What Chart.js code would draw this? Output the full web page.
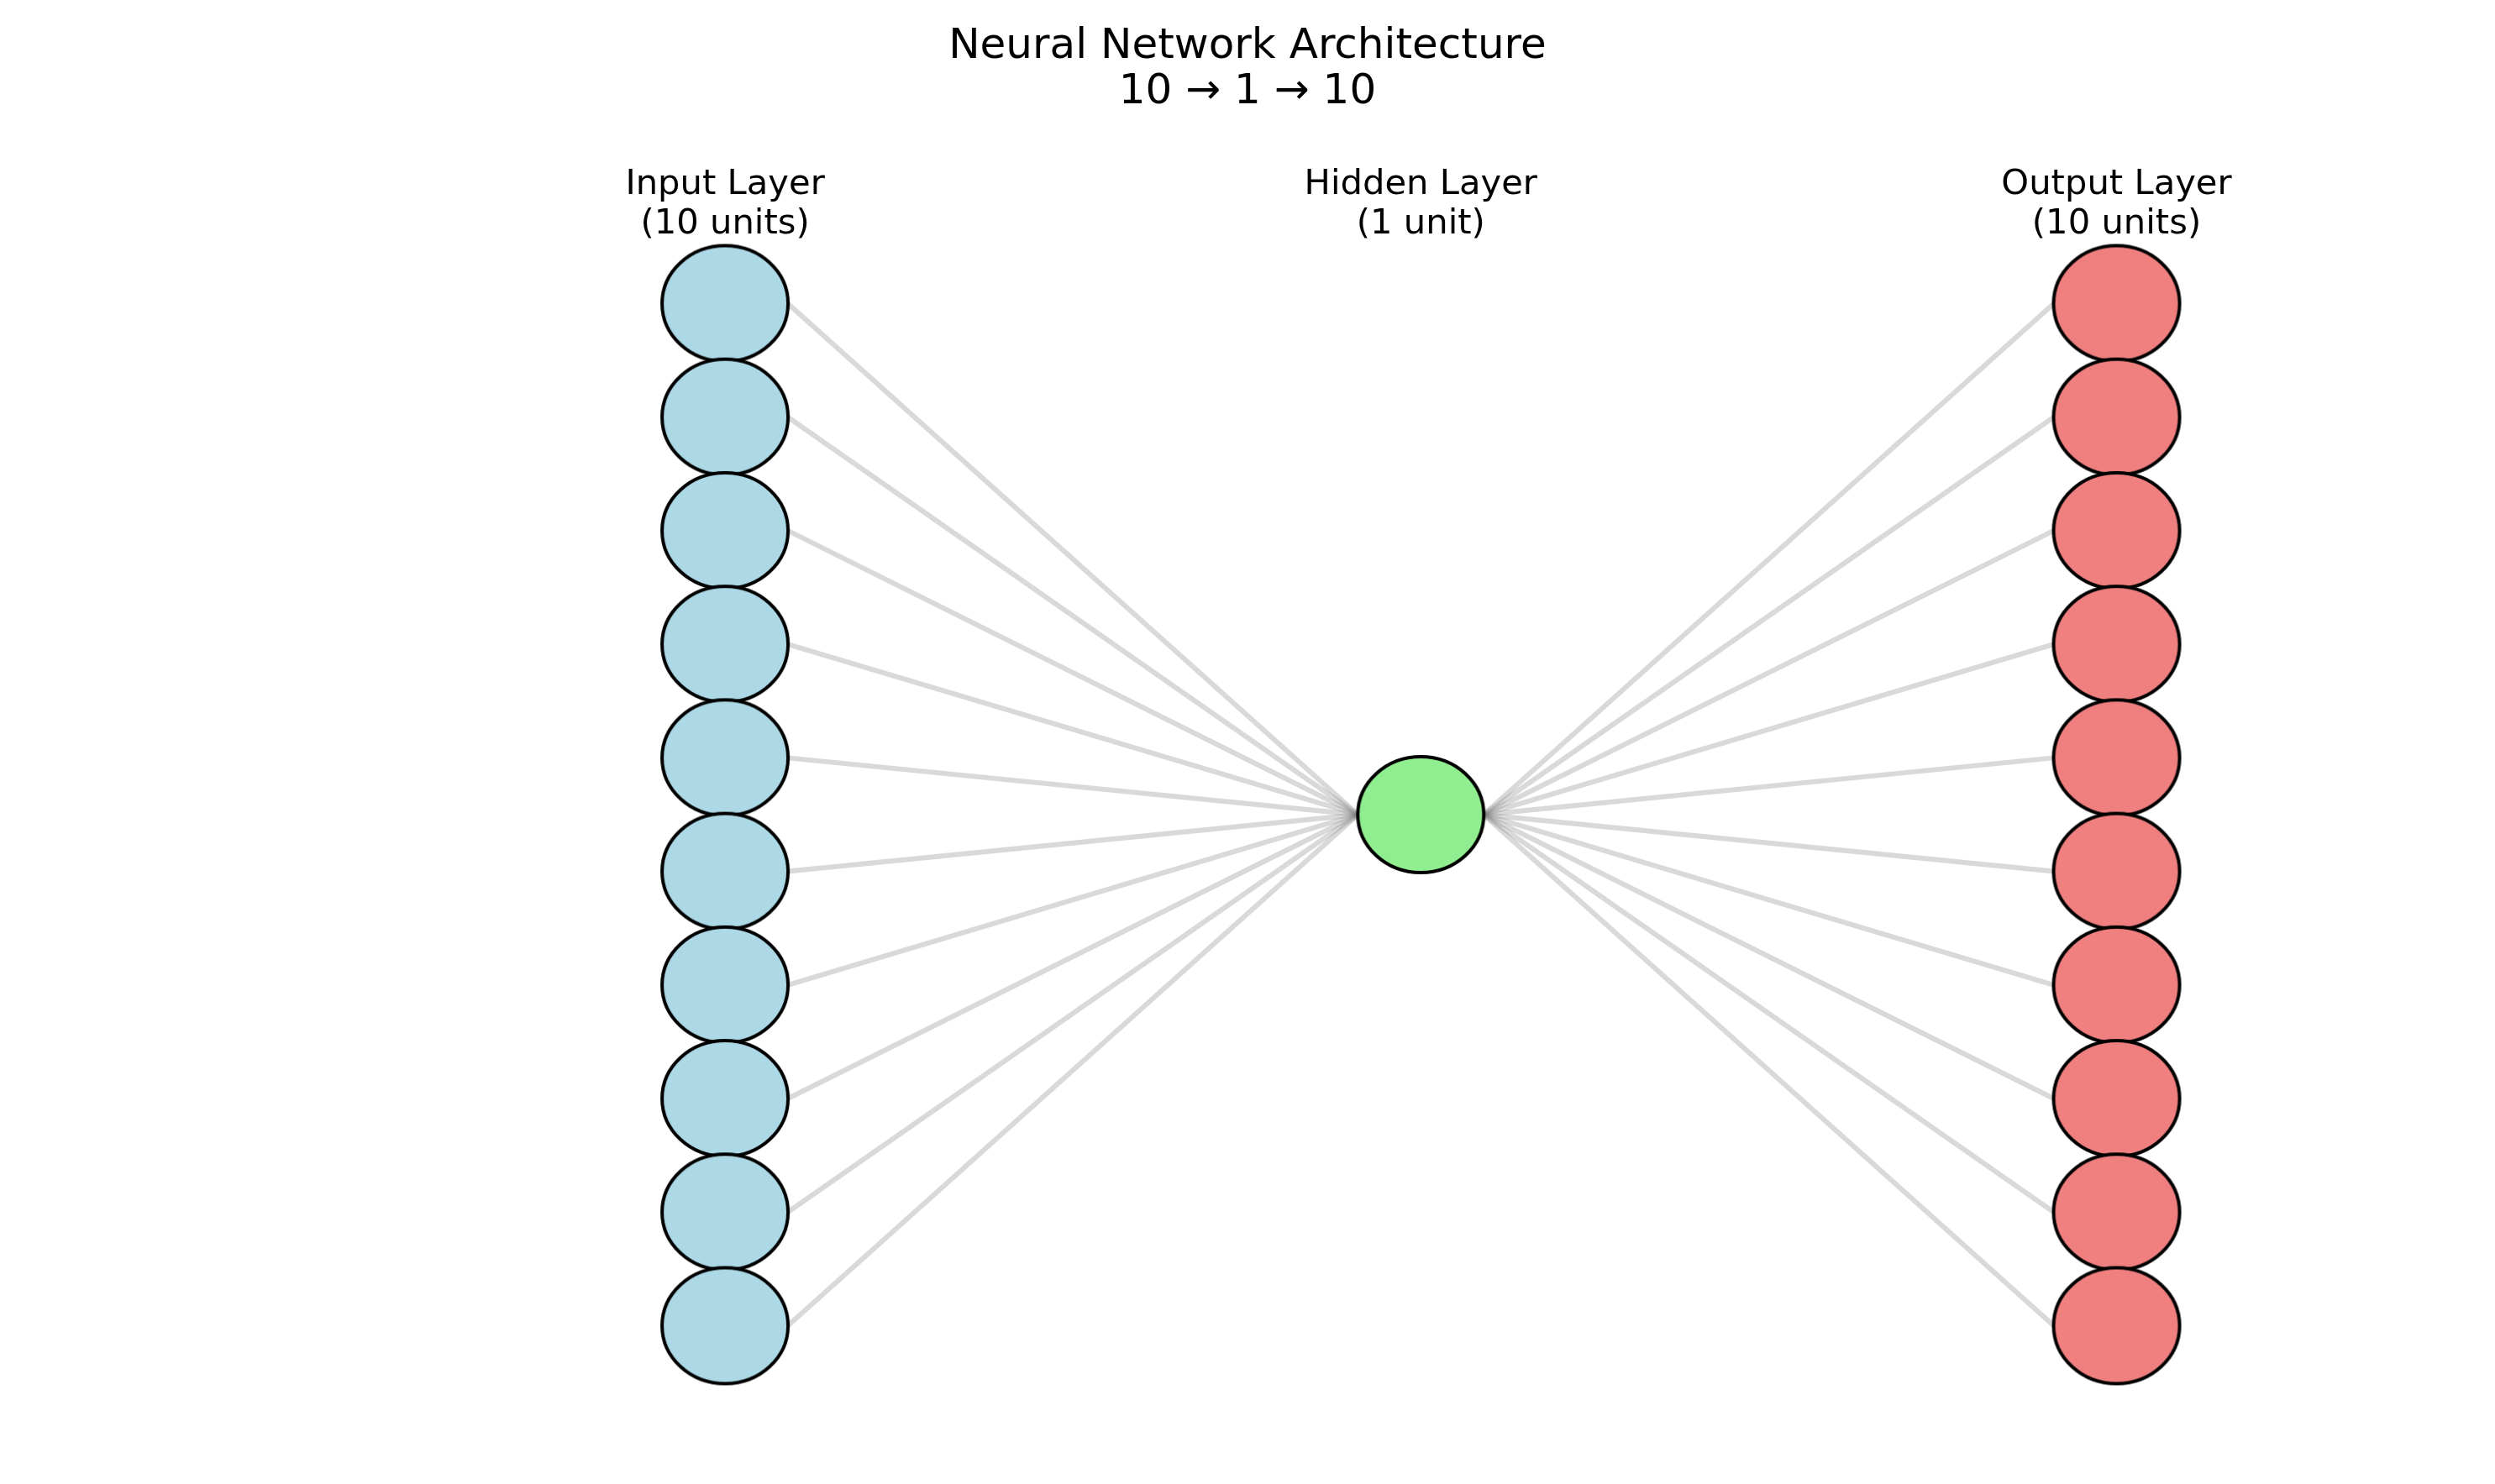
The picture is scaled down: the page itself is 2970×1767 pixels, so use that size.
<!DOCTYPE html>
<html>
<head>
<meta charset="utf-8">
<script src="https://cdn.jsdelivr.net/npm/chart.js@4.4.1/dist/chart.umd.min.js"></script>
<style>
  body { margin: 0; background: #fff; }
  canvas { display: block; }
</style>
</head>
<body>
<canvas id="netChart" width="2970" height="1767"></canvas>
<script>
// chart data
const titleLines = ['Neural Network Architecture', '10 \u2192 1 \u2192 10'];
const layerNames = ['Input Layer', 'Hidden Layer', 'Output Layer'];
const layerUnits = [10, 1, 10];
const layerColors = ['#add8e6', '#90ee90', '#f08080'];

// layout (data units: layers 0,1,2 on x, one node per unit on y)
const NODE_RX = 0.0903;   // node half-width in x units
const NODE_RX_PX = 75;
const NODE_RY_PX = 69;
const FONT = '"DejaVu Sans", sans-serif';

// node positions, centred around y = 0
function nodeY(n, j) {
  return (n - 1) / 2 - j;
}

// one ellipse image per layer colour, used as point style
function nodeImage(fill) {
  const c = document.createElement('canvas');
  c.width = NODE_RX_PX * 2 + 6;
  c.height = NODE_RY_PX * 2 + 6;
  const g = c.getContext('2d');
  g.beginPath();
  g.ellipse(c.width / 2, c.height / 2, NODE_RX_PX, NODE_RY_PX, 0, 0, Math.PI * 2);
  g.fillStyle = fill;
  g.fill();
  g.lineWidth = 4;
  g.strokeStyle = '#000';
  g.stroke();
  return c;
}

const datasets = [];

// nodes (drawn on top)
layerUnits.forEach((n, i) => {
  const pts = [];
  for (let j = 0; j < n; j++) pts.push({ x: i, y: nodeY(n, j) });
  datasets.push({
    type: 'scatter',
    label: layerNames[i],
    data: pts,
    pointStyle: nodeImage(layerColors[i]),
    order: 0
  });
});

// connections between neighbouring layers
for (let i = 0; i < layerUnits.length - 1; i++) {
  for (let a = 0; a < layerUnits[i]; a++) {
    for (let b = 0; b < layerUnits[i + 1]; b++) {
      datasets.push({
        type: 'line',
        data: [
          { x: i + NODE_RX, y: nodeY(layerUnits[i], a) },
          { x: i + 1 - NODE_RX, y: nodeY(layerUnits[i + 1], b) }
        ],
        borderColor: 'rgba(128,128,128,0.3)',
        borderWidth: 6,
        pointRadius: 0,
        tension: 0,
        order: 1
      });
    }
  }
}

// title and layer captions
const textPlugin = {
  id: 'netText',
  afterDraw(chart) {
    const ctx = chart.ctx;
    const xs = chart.scales.x, ys = chart.scales.y;
    ctx.save();
    ctx.fillStyle = '#000';
    ctx.textAlign = 'center';
    ctx.textBaseline = 'alphabetic';
    ctx.font = '50px ' + FONT;
    ctx.fillText(titleLines[0], chart.width / 2, 69);
    ctx.fillText(titleLines[1], chart.width / 2, 123);

    ctx.font = '41.7px ' + FONT;
    layerUnits.forEach((n, i) => {
      const px = xs.getPixelForValue(i);
      const topY = ys.getPixelForValue(nodeY(layerUnits[0], 0)) - 83.5;
      const units = '(' + n + (n === 1 ? ' unit)' : ' units)');
      ctx.fillText(layerNames[i], px, topY - 47);
      ctx.fillText(units, px, topY);
    });
    ctx.restore();
  }
};

new Chart(document.getElementById('netChart'), {
  type: 'scatter',
  data: { datasets },
  options: {
    responsive: false,
    animation: false,
    devicePixelRatio: 1,
    layout: { padding: 0 },
    plugins: {
      legend: { display: false },
      tooltip: { enabled: false },
      title: { display: false }
    },
    scales: {
      x: { type: 'linear', display: false, min: -1.0361, max: 2.5379 },
      y: { type: 'linear', display: false, min: -5.857, max: 7.136 }
    }
  },
  plugins: [textPlugin]
});
</script>
</body>
</html>
